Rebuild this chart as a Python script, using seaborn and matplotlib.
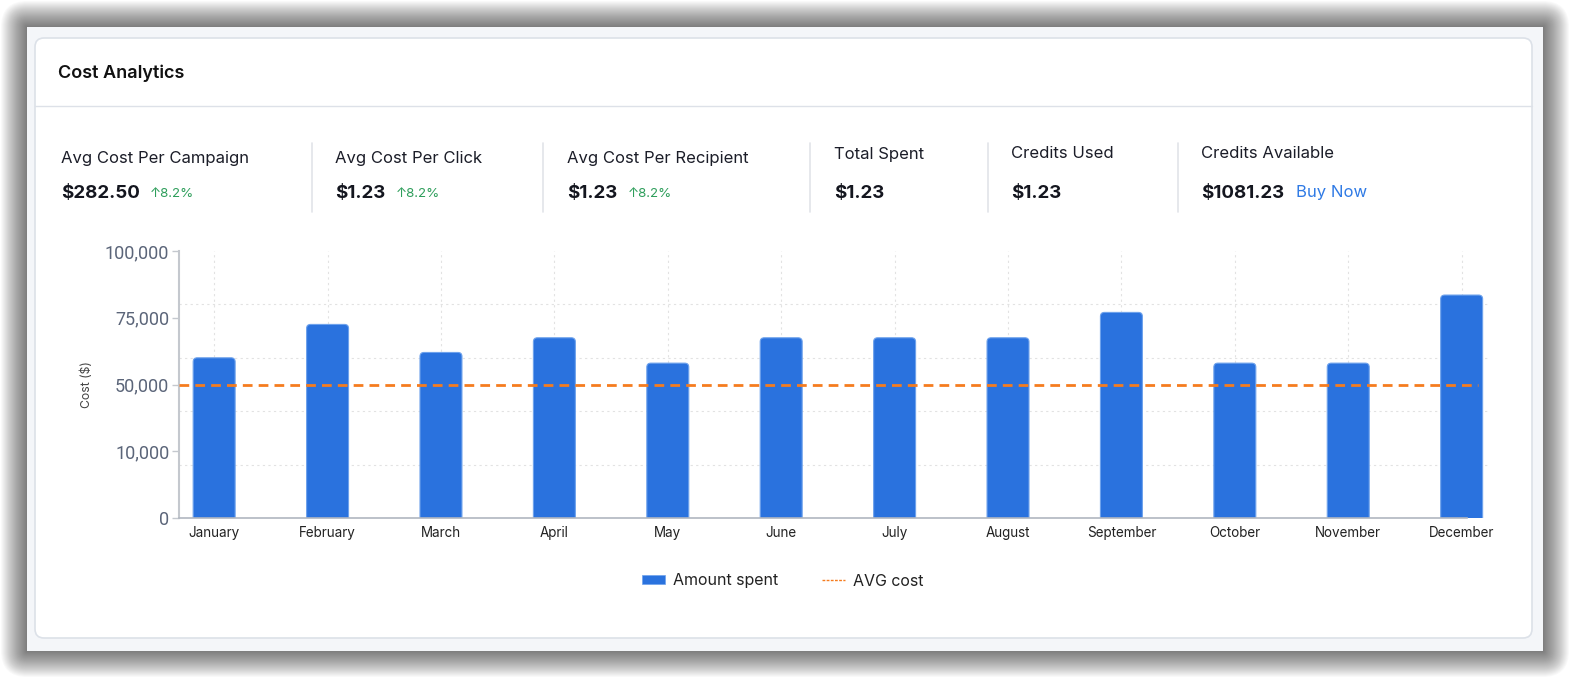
import numpy as np
import matplotlib
matplotlib.use("Agg")
import matplotlib.pyplot as plt
import matplotlib.transforms as mtransforms
import seaborn as sns
from matplotlib.patches import FancyBboxPatch, Patch
from matplotlib.lines import Line2D

# chart data
months = ["January", "February", "March", "April", "May", "June",
          "July", "August", "September", "October", "November", "December"]
amount_spent = [60000, 72500, 62000, 67500, 58000, 67500,
                67500, 67500, 77000, 58000, 58000, 83500]
avg_cost = 50000
y_ticks = [0, 10000, 50000, 75000, 100000]
y_tick_labels = ["0", "10,000", "50,000", "75,000", "100,000"]

# KPI strip
kpi_labels = ["Avg Cost Per Campaign", "Avg Cost Per Click", "Avg Cost Per Recipient",
              "Total Spent", "Credits Used", "Credits Available"]
kpi_values = ["$282.50", "$1.23", "$1.23", "$1.23", "$1.23", "$1081.23"]
kpi_change = ["8.2%", "8.2%", "8.2%", None, None, None]

BLUE = "#2a72de"
ORANGE = "#f57c1f"

sns.set_theme(style="white")
plt.rcParams["font.family"] = ["Inter", "DejaVu Sans"]

W, H = 1580, 682
fig = plt.figure(figsize=(W / 100, H / 100), dpi=100)
fig.patch.set_facecolor("white")

# background layer in pixel coordinates
bg = fig.add_axes([0, 0, 1, 1])
bg.set_xlim(0, W)
bg.set_ylim(H, 0)
bg.axis("off")

# soft shadow around the panel
for k in range(26, 0, -1):
    bg.add_patch(FancyBboxPatch((27 - k, 27 - k), 1516 + 2 * k, 624 + 2 * k,
                                boxstyle="round,pad=0,rounding_size=%d" % k,
                                fc="black", ec="none", alpha=0.024))
bg.add_patch(FancyBboxPatch((27, 27), 1516, 624, boxstyle="square,pad=0",
                            fc="#f4f6f9", ec="none"))
bg.add_patch(FancyBboxPatch((35, 38), 1497, 600, boxstyle="round,pad=0,rounding_size=9",
                            fc="white", ec="#dce1e8", lw=1.2))
bg.plot([35, 1532], [106, 106], color="#dde1e8", lw=1)

bg.text(58, 73, "Cost Analytics", fontsize=13, fontweight="semibold",
        color="#111111", va="center")

kpi_x = [61, 335, 567, 834, 1011, 1201]
label_y = [158, 158, 158, 154, 154, 154]
for sx in [312, 543, 810, 988, 1178]:
    bg.plot([sx, sx], [143, 212], color="#e1e4e9", lw=1.2)

renderer = fig.canvas.get_renderer()
for i in range(len(kpi_labels)):
    bg.text(kpi_x[i], label_y[i], kpi_labels[i], fontsize=12, color="#1b1d28", va="center")
    t = bg.text(kpi_x[i], 193, kpi_values[i], fontsize=13.5, fontweight="bold",
                color="#14161f", va="center")
    end = t.get_window_extent(renderer=renderer).x1
    if kpi_change[i]:
        bg.text(end + 10, 194, "\u2191" + kpi_change[i], fontsize=9.6,
                color="#2e9e5b", va="center")
    if kpi_labels[i] == "Credits Available":
        bg.text(end + 12, 193, "Buy Now", fontsize=12, color="#2f7ae5", va="center")

# y scale: equal spacing between uneven ticks
tick_pos = np.arange(len(y_ticks), dtype=float)


def fwd(v):
    return np.interp(v, y_ticks, tick_pos)


def inv(u):
    return np.interp(u, tick_pos, y_ticks)


ax = fig.add_axes([179 / W, 1 - 518 / H, (1490 - 179) / W, (518 - 251) / H])
ax.set_facecolor("none")
sns.barplot(x=months, y=amount_spent, color=BLUE, saturation=1, width=0.37,
            edgecolor="#6ea2ec", linewidth=0.8, ax=ax, zorder=3)
ax.axhline(avg_cost, xmin=0, xmax=0.991, color=ORANGE, lw=2, ls=(0, (3.5, 2.2)), zorder=4)

ax.set_yscale("function", functions=(fwd, inv))
ax.set_ylim(0, 100000)
ax.set_xlim(-0.31, 11.25)
ax.set_yticks(y_ticks, y_tick_labels)
ax.set_yticks(inv(np.linspace(0, len(y_ticks) - 1, 6)[1:]), minor=True)
ax.yaxis.set_minor_formatter(matplotlib.ticker.NullFormatter())
ax.grid(which="minor", axis="y", ls=(0, (2, 3)), color="#e2e2e2", lw=0.8, zorder=0)
ax.grid(which="major", axis="x", ls=(0, (2, 3)), color="#e2e2e2", lw=0.8, zorder=0)
ax.grid(which="major", axis="y", visible=False)
ax.tick_params(axis="y", which="minor", length=0)
ax.tick_params(axis="y", which="major", left=True, length=5, width=1, color="#c4c8ce",
               labelsize=13, labelcolor="#5b6579", pad=2)
ax.tick_params(axis="x", length=0, labelsize=9.7, labelcolor="#222222", pad=6)
for lbl in ax.get_yticklabels():
    lbl.set_family("Roboto")

sns.despine(ax=ax)
ax.spines["left"].set_color("#c4c8ce")
ax.spines["left"].set_linewidth(1.5)
ax.spines["bottom"].set_color("#b0b6c0")
ax.spines["bottom"].set_linewidth(1.2)
ax.spines["bottom"].set_bounds(-0.31, 11.05)
ax.spines["bottom"].set_zorder(5)

ax.set_xlabel("")
ax.set_ylabel("Cost ($)", fontsize=8.8, color="#444444")
ax.yaxis.set_label_coords(-0.0656, 0.5)

# round the top corners of the seaborn bars
fig.canvas.draw()
for p in list(ax.patches):
    bb = p.get_window_extent()
    p.set_visible(False)
    ax.add_patch(FancyBboxPatch((bb.x0, bb.y0 - 8), bb.width, bb.height + 8,
                                boxstyle="round,pad=0,rounding_size=4",
                                fc=BLUE, ec="#6ea2ec", lw=0.8, zorder=3,
                                transform=mtransforms.IdentityTransform()))

handles = [Patch(fc=BLUE, ec="#6ea2ec", lw=0.5),
           Line2D([0], [0], color=ORANGE, lw=1, ls=(0, (2, 1)))]
fig.legend(handles, ["Amount spent", "AVG cost"], loc="center",
           bbox_to_anchor=(783 / W, 1 - 581 / H), ncol=2, frameon=False,
           fontsize=11.5, handlelength=1.44, handleheight=0.5,
           handletextpad=0.5, columnspacing=2.75, labelcolor="#222222")

fig.savefig("out.png", dpi=100, facecolor="white")
